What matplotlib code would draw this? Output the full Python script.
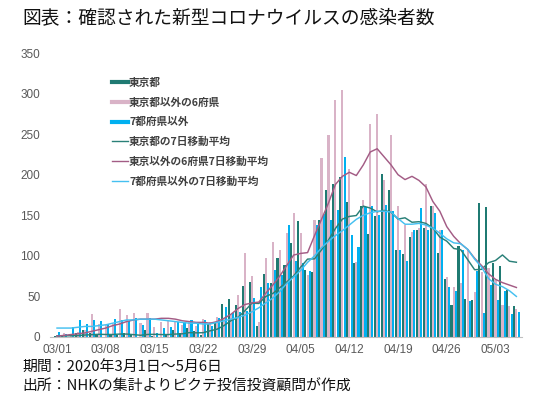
import numpy as np
import matplotlib
matplotlib.use("Agg")
import matplotlib.pyplot as plt
from matplotlib.lines import Line2D

plt.rcParams['font.family'] = ['Noto Sans CJK JP', 'DejaVu Sans']

# 2020/03/01 - 2020/05/06 daily new cases
tokyo = [1, 2, 0, 5, 8, 5, 2, 0, 2, 3, 5, 3, 0, 9, 1, 0, 3, 9, 5, 11, 7, 2, 16, 17, 41, 47, 40, 63,
         68, 13, 78, 66, 97, 89, 116, 143, 83, 80, 144, 181, 189, 197, 166, 91, 161, 127, 149, 201,
         181, 107, 102, 123, 132, 134, 161, 103, 72, 39, 112, 47, 46, 165, 160, 91, 87, 58, 38]
six_pref = [2, 5, 4, 6, 9, 28, 16, 15, 16, 34, 27, 29, 17, 30, 12, 18, 20, 18, 15, 20, 14, 22, 18,
            25, 22, 27, 52, 104, 75, 19, 97, 117, 107, 128, 153, 128, 77, 144, 221, 249, 292, 305,
            207, 93, 169, 262, 275, 194, 249, 161, 138, 130, 134, 189, 161, 132, 74, 62, 67, 109,
            56, 80, 85, 70, 40, 38, 35]
others = [6, 4, 12, 21, 16, 21, 20, 16, 22, 21, 20, 24, 15, 24, 5, 11, 12, 19, 18, 21, 16, 21, 13,
          24, 37, 30, 31, 32, 48, 62, 66, 83, 77, 138, 94, 91, 81, 138, 152, 144, 156, 222, 126,
          111, 160, 162, 150, 163, 155, 107, 94, 132, 159, 132, 153, 132, 62, 57, 107, 44, 81, 30,
          64, 46, 57, 28, 31]

# 7-day moving averages as drawn
tokyo_ma = [1.2, 1.4, 1.5, 1.8, 2.4, 2.9, 3.3, 3.1, 3.1, 3.6, 3.6, 2.9, 2.1, 3.1, 3.3, 3.0, 3.0,
            3.6, 3.9, 5.4, 5.1, 5.3, 7.6, 9.6, 14.1, 20.1, 24.3, 32.3, 41.7, 41.3, 50.0, 53.6,
            60.7, 67.7, 75.3, 86.0, 96.0, 96.3, 107.4, 119.4, 133.7, 145.3, 148.6, 149.7, 161.3,
            158.9, 154.3, 156.0, 153.7, 145.3, 146.9, 141.4, 142.1, 140.0, 134.3, 123.1, 118.1,
            109.1, 107.6, 95.4, 82.9, 83.4, 91.6, 94.3, 101.1, 93.4, 92.1]
six_ma = [1, 2, 3, 4, 5, 7, 9, 11, 14, 16, 19, 21, 22, 22, 22, 23, 23, 22, 20, 19, 18, 18, 17, 19,
          23, 28, 35, 40, 42, 43, 54, 64, 75, 88, 101, 103, 104, 125, 145, 165, 188, 198, 203, 199,
          212, 228, 232, 222, 212, 200, 194, 198, 193, 185, 167, 155, 136, 124, 115, 108, 97, 88,
          78, 71, 67, 64, 61]
others_ma = [11, 11, 11, 12, 13, 13, 14, 15, 17, 19, 21, 21, 22, 22, 22, 21, 20, 19, 18, 17, 17,
             16, 16, 18, 20, 22, 24, 27, 31, 36, 42, 48, 56, 66, 74, 82, 92, 100, 110, 118, 125,
             131, 138, 145, 150, 153, 155, 155, 154, 146, 139, 139, 140, 138, 134, 128, 121, 116,
             115, 108, 96, 86, 72, 65, 62, 57, 50]

tick_labels = ['03/01', '03/08', '03/15', '03/22', '03/29', '04/05', '04/12', '04/19', '04/26', '05/03']

c_tokyo = '#1f7a72'
c_six = '#d9b3c7'
c_oth = '#00b0f0'
c_tokyo_l = '#2a8078'
c_six_l = '#a35c85'
c_oth_l = '#45c0f0'

fig = plt.figure(figsize=(5.5, 3.98), dpi=100)
ax = fig.add_axes([0.091, 0.1533, 0.858, 0.7135])

x = np.arange(len(tokyo))
w = 0.3
ax.bar(x - 0.32, tokyo, width=w, color=c_tokyo, linewidth=0)
ax.bar(x, six_pref, width=w, color=c_six, linewidth=0)
ax.bar(x + 0.32, others, width=w, color=c_oth, linewidth=0)

ax.plot(x, tokyo_ma, color=c_tokyo_l, lw=1.05)
ax.plot(x, six_ma, color=c_six_l, lw=1.05)
ax.plot(x, others_ma, color=c_oth_l, lw=1.05)

ax.set_xlim(-1.0, 66.8)
ax.set_ylim(0, 350)
ax.set_yticks(range(0, 351, 50))
ax.set_xticks(range(0, len(tick_labels) * 7, 7))
ax.set_xticklabels(tick_labels)
for sp in ['top', 'right', 'left']:
    ax.spines[sp].set_visible(False)
ax.spines['bottom'].set_color('#bfbfbf')
ax.tick_params(axis='both', length=0, colors='#595959', labelsize=8.5)
ax.tick_params(axis='y', pad=7)
ax.tick_params(axis='x', pad=5)
for lab in ax.get_xticklabels() + ax.get_yticklabels():
    lab.set_family('Liberation Sans')

handles = [
    Line2D([0], [0], color=c_tokyo, lw=3),
    Line2D([0], [0], color=c_six, lw=3),
    Line2D([0], [0], color=c_oth, lw=3),
    Line2D([0], [0], color=c_tokyo_l, lw=1),
    Line2D([0], [0], color=c_six_l, lw=1),
    Line2D([0], [0], color=c_oth_l, lw=1),
]
labels = ['東京都', '東京都以外の6府県', '7都府県以外', '東京都の7日移動平均',
          '東京以外の6府県7日移動平均', '7都府県以外の7日移動平均']
leg = fig.legend(handles, labels, loc='upper left', bbox_to_anchor=(0.1945, 0.818),
                 bbox_transform=fig.transFigure, frameon=False, borderpad=0,
                 handlelength=1.45, handletextpad=0.12, labelspacing=0.9,
                 prop={'size': 7.7, 'weight': 'bold'})
for t in leg.get_texts():
    t.set_color('#404040')

fig.text(0.04, 0.955, '図表：確認された新型コロナウイルスの感染者数', fontsize=13.5,
         va='center', ha='left', color='#111111')
fig.text(0.04, 0.078, '期間：2020年3月1日～5月6日', fontsize=10.7, va='center', ha='left',
         color='#111111')
fig.text(0.04, 0.028, '出所：NHKの集計よりピクテ投信投資顧問が作成', fontsize=10.7, va='center',
         ha='left', color='#111111')

fig.savefig('out.png', dpi=100)
